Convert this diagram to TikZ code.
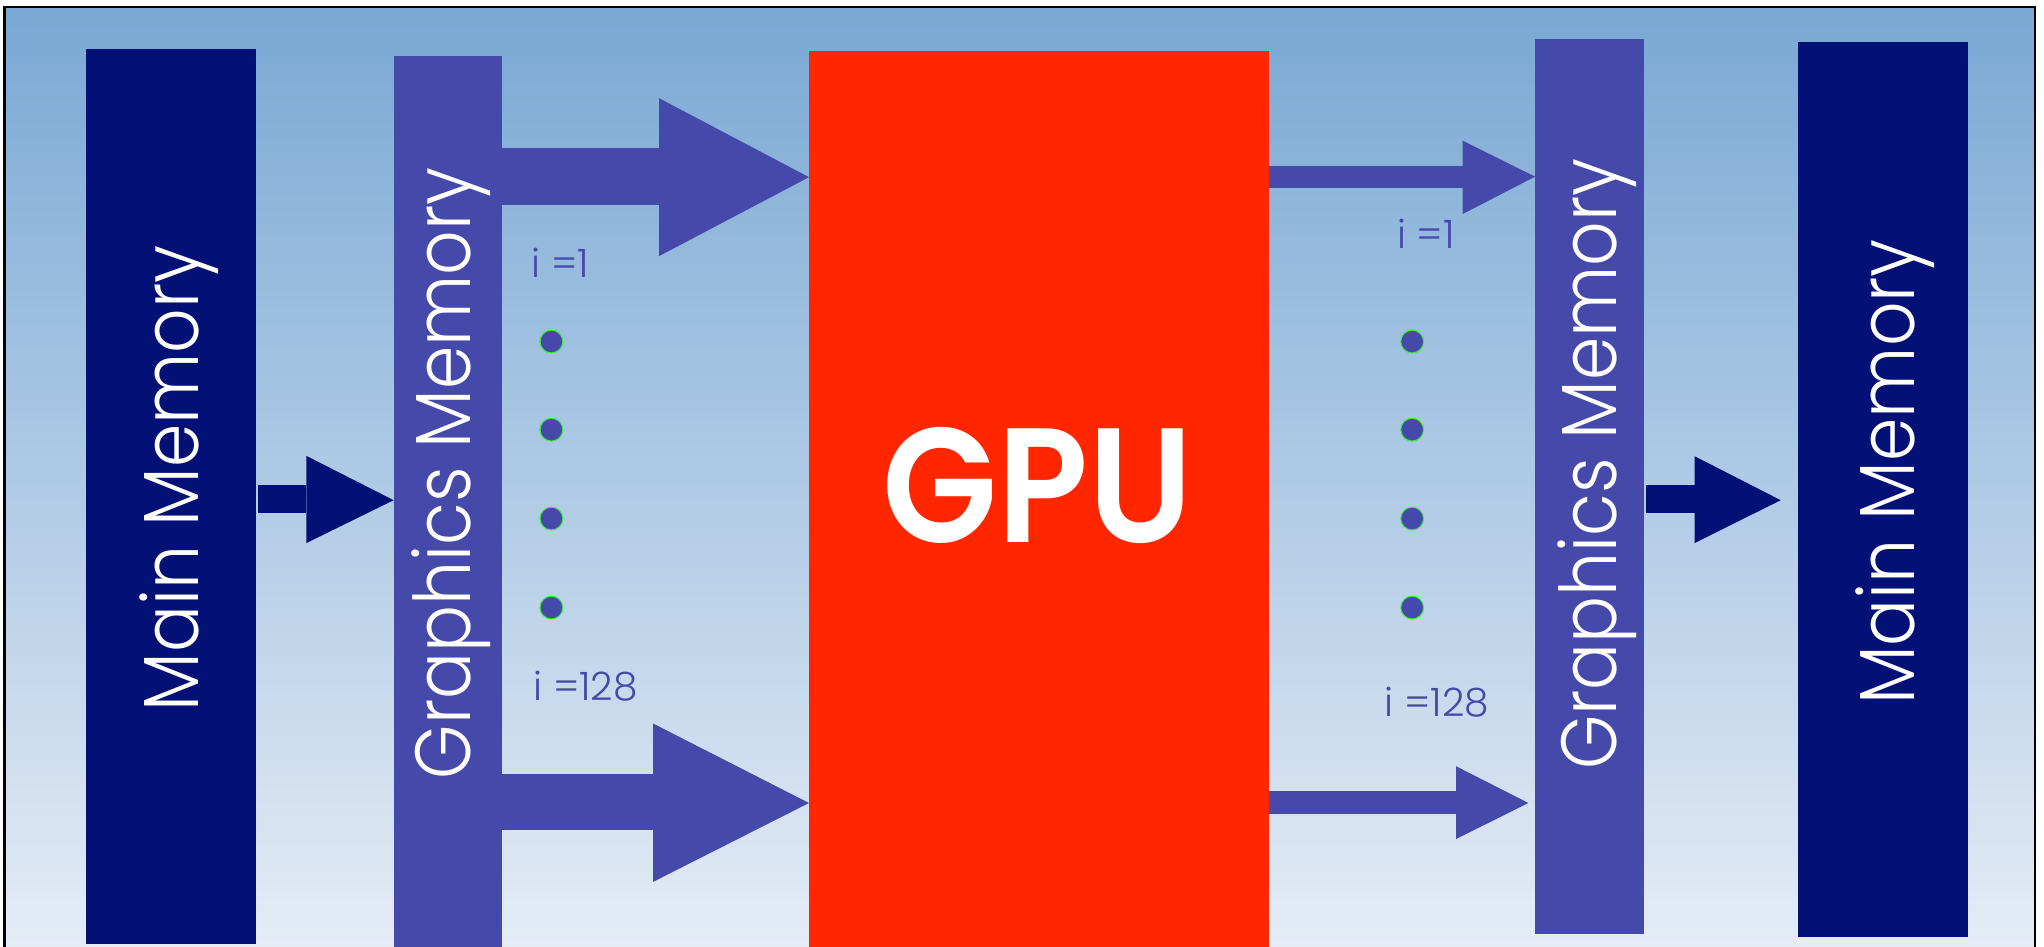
\documentclass[tikz,border=0pt]{standalone}
\usepackage{fontspec}
\setmainfont{Poppins}[UprightFont=* Light, BoldFont=* SemiBold]
\definecolor{navy}{RGB}{3,17,118}
\definecolor{gmc}{RGB}{69,73,170}
\definecolor{gpured}{RGB}{255,38,0}
\definecolor{bgtop}{RGB}{121,168,212}
\definecolor{bgbot}{RGB}{229,236,246}
\definecolor{dotgreen}{RGB}{60,235,60}
\begin{document}
\begin{tikzpicture}[x=1pt,y=-1pt,
  box/.style={draw=none,inner sep=0pt,outer sep=0pt,anchor=north west},
  memtext/.style={text=white,inner sep=0pt,rotate=90,anchor=base,font=\fontsize{60}{60}\selectfont},
  lbl/.style={text=gmc,inner sep=0pt,anchor=base west,font=\fontsize{30}{30}\selectfont},
  dotnode/.style={circle,fill=gmc,draw=dotgreen,line width=0.8pt,minimum size=17.5pt,inner sep=0pt}]
\useasboundingbox (0,0) rectangle (1568,726);
% background and frame
\shade[top color=bgtop,bottom color=bgbot] (3.6,5.4) rectangle (1561,727);
\draw[line width=2pt] (3.6,727) -- (3.6,5.4) -- (1561,5.4) -- (1561,727);
% boxes
\node[box,fill=navy,minimum width=130pt,minimum height=686.4pt] (mmL) at (66,37.6) {};
\node[box,fill=gmc,minimum width=83pt,minimum height=690pt] (gmL) at (302,43) {};
\node[box,fill=gpured,minimum width=353pt,minimum height=690pt] (gpu) at (620.6,39) {};
\node[box,fill=gmc,minimum width=83.4pt,minimum height=686.5pt] (gmR) at (1177.6,30) {};
\node[box,fill=navy,minimum width=130.5pt,minimum height=687pt] (mmR) at (1379,32) {};
% texts
\node[memtext] (mmLt) at (152,367) {\scalebox{0.89}[1]{Main Memory}};
\node[memtext] (gmLt) at (361,363) {\scalebox{0.89}[1]{Graphics Memory}};
\node[memtext] (gmRt) at (1240,356) {\scalebox{0.89}[1]{Graphics Memory}};
\node[memtext] (mmRt) at (1469,362) {\scalebox{0.89}[1]{Main Memory}};
\node[text=white,inner sep=0pt,anchor=base,font=\bfseries\fontsize{125}{125}\selectfont] (gput) at (796,416) {\scalebox{0.92}[1]{GPU}};
% arrows left
\fill[gmc] (gmL.east |- 0,113.8) rectangle (505.7,157.3);
\fill[gmc] (505.7,75.4) -- (gpu.west |- 0,135.9) -- (505.7,196.4) -- cycle;
\fill[gmc] (gmL.east |- 0,594) rectangle (501,637);
\fill[gmc] (501,555) -- (gpu.west |- 0,616) -- (501,676.5) -- cycle;
% arrows right
\fill[gmc] (gpu.east |- 0,127.3) rectangle (1122,144.5);
\fill[gmc] (1122,107.9) -- (gmR.west |- 0,135.5) -- (1122,164.2) -- cycle;
\coordinate (tipBR) at (1172.5,616);
\fill[gmc] (gpu.east |- 0,607) rectangle (1117,624.6);
\fill[gmc] (1117,587.8) -- (tipBR) -- (1117,643.6) -- cycle;
% small arrows
\fill[navy] (198,372) rectangle (235,393.3);
\fill[navy] (235,349.7) -- (gmL.west |- 0,383.7) -- (235,416.6) -- cycle;
\coordinate (tipR) at (1366,383.7);
\fill[navy] (1262.6,372) rectangle (1300,393.3);
\fill[navy] (1300,350) -- (tipR) -- (1300,416.6) -- cycle;
% labels
\node[lbl] (l1) at (407.5,212.7) {i =1};
\node[lbl] (l2) at (409,537.6) {i =128};
\node[lbl] (r1) at (1071.5,191) {i =1};
\node[lbl] (r2) at (1062,550) {i =128};
% dots
\foreach \y [count=\k] in {262,329.6,397.8,466.1} {
  \node[dotnode] (dl\k) at (423,\y) {};
  \node[dotnode] (dr\k) at (1083.3,\y) {};
}
\end{tikzpicture}
\end{document}
